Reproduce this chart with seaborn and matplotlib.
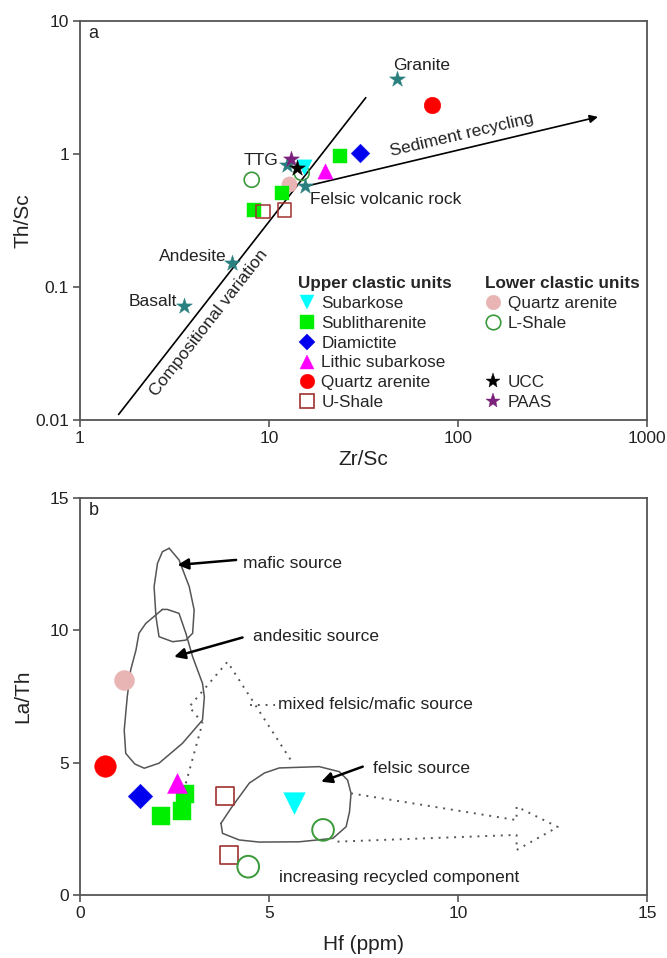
import numpy as np
import pandas as pd
import matplotlib
matplotlib.use("Agg")
import matplotlib.pyplot as plt
import seaborn as sns
from matplotlib.lines import Line2D

# ---------------- Panel a : Zr/Sc vs Th/Sc ----------------
subarkose_zr = [15.3];            subarkose_th = [0.80]
sublith_zr = [23.8, 11.7, 8.3];   sublith_th = [0.97, 0.51, 0.38]
diamictite_zr = [30.3];           diamictite_th = [1.01]
lithic_zr = [19.8];               lithic_th = [0.74]
qa_upper_zr = [72.6];             qa_upper_th = [2.33]
ushale_zr = [9.3, 12.05];         ushale_th = [0.37, 0.38]
qa_lower_zr = [12.7];             qa_lower_th = [0.60]
lshale_zr = [14.9, 8.1];          lshale_th = [0.72, 0.64]
ucc_zr = [14.0];                  ucc_th = [0.79]
paas_zr = [13.1];                 paas_th = [0.92]
rock_names = ["Basalt", "Andesite", "TTG", "Felsic volcanic rock", "Granite"]
rock_zr = [3.55, 6.35, 12.4, 15.5, 47.4]
rock_th = [0.072, 0.152, 0.83, 0.57, 3.65]
comp_line_zr = [1.6, 32.5];       comp_line_th = [0.011, 2.65]
recyc_zr = [15.5, 550];           recyc_th = [0.57, 1.9]

# ---------------- Panel b : Hf vs La/Th ----------------
subarkose_hf = [5.66];            subarkose_la = [3.46]
sublith_hf = [2.78, 2.69, 2.15];  sublith_la = [3.81, 3.18, 2.99]
diamictite_hf = [1.59];           diamictite_la = [3.75]
lithic_hf = [2.57];               lithic_la = [4.22]
qa_upper_hf = [0.65];             qa_upper_la = [4.88]
ushale_hf = [3.83, 3.94];         ushale_la = [3.75, 1.51]
qa_lower_hf = [1.16];             qa_lower_la = [8.12]
lshale_hf = [6.43, 4.45];         lshale_la = [2.46, 1.07]

mafic_x = [2.36, 2.62, 2.89, 3.02, 2.98, 2.80, 2.45, 2.09, 2.01, 1.96, 2.05, 2.18, 2.36]
mafic_y = [13.10, 12.66, 11.65, 10.77, 9.89, 9.63, 9.57, 9.76, 10.51, 11.65, 12.53, 12.97, 13.10]
andes_x = [2.18, 1.74, 1.56, 1.48, 1.34, 1.25, 1.17, 1.21, 1.45, 1.70, 2.09, 2.71, 3.24, 3.29,
           3.24, 2.98, 2.80, 2.62, 2.31, 2.18]
andes_y = [10.79, 10.26, 9.89, 9.25, 8.50, 7.49, 6.23, 5.35, 4.95, 4.79, 4.98, 5.73, 6.61, 7.49,
           8.00, 9.00, 9.89, 10.64, 10.79, 10.79]
felsic_x = [3.73, 4.00, 4.48, 4.88, 5.27, 6.33, 6.86, 7.08, 7.17, 7.13, 7.04, 6.69, 5.80, 4.74,
            4.21, 3.77, 3.73]
felsic_y = [2.71, 3.29, 4.23, 4.61, 4.80, 4.85, 4.66, 4.34, 3.84, 3.14, 2.58, 2.14, 2.01, 2.00,
            2.08, 2.33, 2.71]
mixed_x = [2.80, 3.24, 2.89, 3.90, 5.63]
mixed_y = [4.22, 6.50, 7.11, 8.81, 4.98]
mixed_lead_x = [4.50, 5.15];      mixed_lead_y = [7.18, 7.18]
recyc_arrow_x = [7.17, 11.55, 11.55, 12.64, 11.55, 11.55, 6.69]
recyc_arrow_y = [3.84, 2.83, 3.34, 2.57, 1.70, 2.27, 2.01]

# ---------------- styling ----------------
sns.set_theme(style="ticks")
plt.rcParams["font.family"] = ["Liberation Sans", "DejaVu Sans"]
plt.rcParams["axes.edgecolor"] = "#555555"
plt.rcParams["xtick.color"] = "#555555"
plt.rcParams["ytick.color"] = "#555555"
plt.rcParams["xtick.labelcolor"] = "#222222"
plt.rcParams["ytick.labelcolor"] = "#222222"

TEAL = "#2a7f7f"; CYAN = "#00ffff"; GREEN = "#00ee00"; BLUE = "#0000ee"
MAG = "#ff00ff"; RED = "#ff0000"; PINK = "#e8b4b4"; BROWN = "#a03030"
DGREEN = "#3a9a3a"; PURPLE = "#7a1f7a"; GRAY = "#555555"

W, H = 667, 958
fig = plt.figure(figsize=(W / 100, H / 100), dpi=100)
ax1 = fig.add_axes([80 / W, 1 - 420 / H, 567 / W, 399 / H])
ax2 = fig.add_axes([80 / W, 1 - 895 / H, 567 / W, 397 / H])


def scat(ax, x, y, marker, ms, face, edge=None, lw=1.2, z=3, hollow=False):
    sns.scatterplot(x=x, y=y, ax=ax, marker=marker, s=ms ** 2, color=face if not hollow else edge,
                    edgecolor=edge if edge else face, linewidth=lw if hollow else 0.3,
                    zorder=z, legend=False)
    if hollow:
        ax.collections[-1].set_facecolor("none")
        ax.collections[-1].set_edgecolor(edge)


# ================= Panel a =================
ax1.set_xscale("log"); ax1.set_yscale("log")
ax1.set_xlim(1, 1000); ax1.set_ylim(0.01, 10)

sns.lineplot(x=comp_line_zr, y=comp_line_th, ax=ax1, color="black", lw=1.2, zorder=2)
ax1.annotate("", xy=(recyc_zr[1], recyc_th[1]), xytext=(recyc_zr[0], recyc_th[0]),
             arrowprops=dict(arrowstyle="-|>", color="black", lw=1.2,
                             mutation_scale=12, shrinkA=0, shrinkB=0), zorder=2)

scat(ax1, qa_lower_zr, qa_lower_th, "o", 11, PINK)
scat(ax1, lshale_zr, lshale_th, "o", 10.8, None, DGREEN, lw=1.2, hollow=True)
scat(ax1, sublith_zr, sublith_th, "s", 9.6, GREEN)
scat(ax1, ushale_zr, ushale_th, "s", 9.6, None, BROWN, lw=1.1, hollow=True)
scat(ax1, diamictite_zr, diamictite_th, "D", 9.5, BLUE)
scat(ax1, lithic_zr, lithic_th, "^", 11, MAG)
scat(ax1, qa_upper_zr, qa_upper_th, "o", 12, RED)
scat(ax1, subarkose_zr, subarkose_th, "v", 11, CYAN)
scat(ax1, rock_zr, rock_th, "*", 12, TEAL, z=4)
scat(ax1, paas_zr, paas_th, "*", 12, PURPLE, z=5)
scat(ax1, ucc_zr, ucc_th, "*", 12, "black", z=5)

fs_ann = 12.5
ax1.text(45.5, 4.6, "Granite", fontsize=fs_ann, ha="left", va="center", color="#222222")
ax1.text(11.2, 0.90, "TTG", fontsize=fs_ann, ha="right", va="center", color="#222222")
ax1.text(16.5, 0.451, "Felsic volcanic rock", fontsize=fs_ann, ha="left", va="center",
         color="#222222")
ax1.text(5.97, 0.169, "Andesite", fontsize=fs_ann, ha="right", va="center", color="#222222")
ax1.text(3.25, 0.0776, "Basalt", fontsize=fs_ann, ha="right", va="center", color="#222222")
ax1.text(4.81, 0.0536, "Compositional variation", fontsize=fs_ann, ha="center", va="center",
         rotation=52, rotation_mode="anchor", color="#222222")
ax1.text(44.6, 0.966, "Sediment recycling", fontsize=fs_ann, ha="left", va="baseline",
         rotation=13.2, rotation_mode="anchor", color="#222222")
ax1.text(0.015, 0.99, "a", transform=ax1.transAxes, fontsize=13, ha="left", va="top",
         color="#222222")

ax1.set_xticks([1, 10, 100, 1000]); ax1.set_xticklabels(["1", "10", "100", "1000"])
ax1.set_yticks([0.01, 0.1, 1, 10]); ax1.set_yticklabels(["0.01", "0.1", "1", "10"])
ax1.minorticks_off()
ax1.set_xlabel("Zr/Sc", fontsize=15, labelpad=3)
ax1.set_ylabel("Th/Sc", fontsize=15, labelpad=2)

# legends
def h(marker, ms, face, edge=None, hollow=False):
    return Line2D([], [], ls="none", marker=marker, markersize=ms,
                  markerfacecolor="none" if hollow else face,
                  markeredgecolor=edge if edge else face, markeredgewidth=1.2 if hollow else 0.3)

blank = Line2D([], [], ls="none")
up_handles = [h("v", 10.5, CYAN), h("s", 10, GREEN), h("D", 8.3, BLUE), h("^", 10.5, MAG),
              h("o", 10.5, RED), h("s", 10, None, BROWN, hollow=True)]
up_labels = ["Subarkose", "Sublitharenite", "Diamictite", "Lithic subarkose", "Quartz arenite",
             "U-Shale"]
lo_handles = [h("o", 10.5, PINK), h("o", 10.5, None, DGREEN, hollow=True), blank, blank,
              h("*", 11, "black"), h("*", 11, PURPLE)]
lo_labels = ["Quartz arenite", "L-Shale", " ", " ", "UCC", "PAAS"]

leg_kw = dict(frameon=False, fontsize=12.3, loc="upper left", borderpad=0, borderaxespad=0,
              handlelength=1.0, handletextpad=0.35, labelspacing=0.28, alignment="left",
              title_fontproperties={"weight": "bold", "size": 12.3})
leg1 = ax1.legend(up_handles, up_labels, title="Upper clastic units",
                  bbox_to_anchor=(0.385, 0.36), **leg_kw)
ax1.add_artist(leg1)
leg2 = ax1.legend(lo_handles, lo_labels, title="Lower clastic units",
                  bbox_to_anchor=(0.714, 0.36), **leg_kw)

# ================= Panel b =================
ax2.set_xlim(0, 15); ax2.set_ylim(0, 15)
for xs, ys in [(mafic_x, mafic_y), (andes_x, andes_y), (felsic_x, felsic_y)]:
    ax2.plot(xs, ys, color=GRAY, lw=1.1, zorder=2)
ax2.plot(mixed_x, mixed_y, color=GRAY, lw=1.4, ls=(0, (1, 3)), zorder=2)
ax2.plot(mixed_lead_x, mixed_lead_y, color=GRAY, lw=1.4, ls=(0, (1, 3)), zorder=2)
ax2.plot(recyc_arrow_x, recyc_arrow_y, color=GRAY, lw=1.4, ls=(0, (1, 3)), zorder=2)

scat(ax2, qa_lower_hf, qa_lower_la, "o", 14.4, PINK)
scat(ax2, qa_upper_hf, qa_upper_la, "o", 15.6, RED)
scat(ax2, diamictite_hf, diamictite_la, "D", 12.5, BLUE)
scat(ax2, sublith_hf, sublith_la, "s", 13.2, GREEN)
scat(ax2, lithic_hf, lithic_la, "^", 14.4, MAG)
scat(ax2, ushale_hf, ushale_la, "s", 13.2, None, BROWN, lw=1.2, hollow=True)
scat(ax2, subarkose_hf, subarkose_la, "v", 15.6, CYAN)
scat(ax2, lshale_hf, lshale_la, "o", 15.6, None, DGREEN, lw=1.4, hollow=True)

arrow_kw = dict(arrowstyle="-|>", color="black", lw=1.8, mutation_scale=16, shrinkA=0, shrinkB=0)
ax2.annotate("", xy=(2.58, 12.47), xytext=(4.13, 12.66), arrowprops=arrow_kw)
ax2.annotate("", xy=(2.49, 9.00), xytext=(4.30, 9.73), arrowprops=arrow_kw)
ax2.annotate("", xy=(6.38, 4.28), xytext=(7.48, 4.85), arrowprops=arrow_kw)

ax2.text(4.30, 12.53, "mafic source", fontsize=fs_ann, ha="left", va="center", color="#222222")
ax2.text(4.57, 9.76, "andesitic source", fontsize=fs_ann, ha="left", va="center",
         color="#222222")
ax2.text(5.23, 7.18, "mixed felsic/mafic source", fontsize=fs_ann, ha="left", va="center",
         color="#222222")
ax2.text(7.75, 4.79, "felsic source", fontsize=fs_ann, ha="left", va="center", color="#222222")
ax2.text(5.27, 0.68, "increasing recycled component", fontsize=fs_ann, ha="left",
         va="center", color="#222222")
ax2.text(0.015, 0.99, "b", transform=ax2.transAxes, fontsize=13, ha="left", va="top",
         color="#222222")

ax2.set_xticks([0, 5, 10, 15]); ax2.set_yticks([0, 5, 10, 15])
ax2.set_xlabel("Hf (ppm)", fontsize=15, labelpad=10)
ax2.set_ylabel("La/Th", fontsize=15, labelpad=12)

for ax in (ax1, ax2):
    for sp in ax.spines.values():
        sp.set_visible(True)
        sp.set_linewidth(1.3)
        sp.set_color(GRAY)
    ax.tick_params(axis="both", which="major", direction="out", length=5, width=1.2,
                   labelsize=12.5, pad=3, top=False, right=False)
    ax.xaxis.label.set_color("#222222")
    ax.yaxis.label.set_color("#222222")

fig.savefig("out.png", dpi=100, facecolor="white")
